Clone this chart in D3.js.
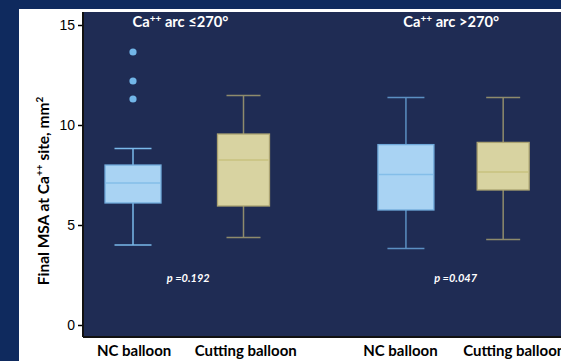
<!DOCTYPE html>
<html><head><meta charset="utf-8">
<script src="https://cdn.jsdelivr.net/npm/d3@7"></script>
<style>html,body{margin:0;padding:0;background:#0f2a5e;}svg{display:block;}</style>
</head><body>
<script>
const categories = ["NC balloon", "Cutting balloon", "NC balloon", "Cutting balloon"];
const slots = [1, 2, 3.47, 4.35];
const labelSlots = [1.01, 2.02, 3.42, 4.45];
const kinds = ["nc", "cut", "nc", "cut"];
const whiskerLow = [4.0, 4.38, 3.82, 4.27];
const q1 = [6.1, 5.95, 5.75, 6.75];
const medians = [7.1, 8.25, 7.53, 7.65];
const q3 = [8.0, 9.55, 9.02, 9.13];
const whiskerHigh = [8.83, 11.47, 11.38, 11.38];
const outliers = [[13.65, 12.2, 11.3], [], [], []];
const yTicks = [0, 5, 10, 15];
const groupTitles = ["arc \u2264270\u00b0", "arc >270\u00b0"];
const groupTitleSlots = [1.43, 3.88];
const pValues = ["p =0.192", "p =0.047"];
const pSlots = [1.5, 3.92];

const W = 561, H = 361;
const svg = d3.select("body").append("svg").attr("width", W).attr("height", H);
svg.append("rect").attr("x", 0).attr("y", 0).attr("width", W).attr("height", H).attr("fill", "#0f2a5e");
svg.append("rect").attr("x", 19).attr("y", 9).attr("width", W - 19).attr("height", H - 9).attr("fill", "#ffffff");

const plot = {x0: 83, x1: 561, y0: 12, y1: 337};
svg.append("rect").attr("x", plot.x0).attr("y", plot.y0).attr("width", plot.x1 - plot.x0).attr("height", plot.y1 - plot.y0).attr("fill", "#1f2c54");

const x = d3.scaleLinear().domain([1, 2]).range([133, 243.5]);
const y = d3.scaleLinear().domain([0, 15]).range([325, 25]);

const style = {
  nc: {fill: "#a9d3f3", stroke: "#6fa9da", median: "#84bee9", whisker: ["#7ab9ea", "#5b8fc2"], half: 28, cap: 18.5},
  cut: {fill: "#d8d3a1", stroke: "#aaa271", median: "#c9c27f", whisker: ["#8e8b6c", "#8e8b6c"], half: 26, cap: 17}
};

categories.forEach((c, i) => {
  const s = style[kinds[i]];
  const cx = x(slots[i]);
  const wc = s.whisker[i < 2 ? 0 : 1];
  const g = svg.append("g");
  g.append("line").attr("x1", cx).attr("x2", cx).attr("y1", y(whiskerHigh[i])).attr("y2", y(q3[i])).attr("stroke", wc).attr("stroke-width", 1.5);
  g.append("line").attr("x1", cx).attr("x2", cx).attr("y1", y(q1[i])).attr("y2", y(whiskerLow[i])).attr("stroke", wc).attr("stroke-width", 1.5);
  g.append("line").attr("x1", cx - s.cap).attr("x2", cx + s.cap).attr("y1", y(whiskerHigh[i])).attr("y2", y(whiskerHigh[i])).attr("stroke", wc).attr("stroke-width", 1.5);
  g.append("line").attr("x1", cx - s.cap).attr("x2", cx + s.cap).attr("y1", y(whiskerLow[i])).attr("y2", y(whiskerLow[i])).attr("stroke", wc).attr("stroke-width", 1.5);
  g.append("rect").attr("x", cx - s.half).attr("width", 2 * s.half).attr("y", y(q3[i])).attr("height", y(q1[i]) - y(q3[i]))
    .attr("fill", s.fill).attr("stroke", s.stroke).attr("stroke-width", 1.3);
  g.append("line").attr("x1", cx - s.half + 1).attr("x2", cx + s.half - 1).attr("y1", y(medians[i])).attr("y2", y(medians[i])).attr("stroke", s.median).attr("stroke-width", 1.5);
  outliers[i].forEach(v => {
    g.append("circle").attr("cx", cx).attr("cy", y(v)).attr("r", 3.6).attr("fill", "#72b6e8");
  });
});

// axes
const yAxis = d3.axisLeft(y).tickValues(yTicks).tickSize(5).tickPadding(3);
const ya = svg.append("g").attr("transform", `translate(${plot.x0},0)`).call(yAxis);
ya.select(".domain").remove();
ya.selectAll(".tick line").attr("stroke", "#000").attr("stroke-width", 1.5);
ya.selectAll(".tick text").attr("fill", "#000").style("font-family", "'Liberation Sans', Arial, sans-serif").style("font-size", "14px");
svg.append("line").attr("x1", plot.x0).attr("x2", plot.x0).attr("y1", plot.y0).attr("y2", plot.y1).attr("stroke", "#111").attr("stroke-width", 2);
svg.append("line").attr("x1", plot.x0).attr("x2", plot.x1).attr("y1", plot.y1).attr("y2", plot.y1).attr("stroke", "#111").attr("stroke-width", 2);

const font = "Lato, 'Open Sans', sans-serif";
categories.forEach((c, i) => {
  svg.append("text").attr("x", x(labelSlots[i])).attr("y", 356).attr("text-anchor", "middle")
    .style("font-family", font).style("font-weight", "bold").style("font-size", "15px").attr("fill", "#000").text(c);
});

// y label
const yl = svg.append("text").attr("transform", "translate(49,191) rotate(-90)").attr("text-anchor", "middle")
  .style("font-family", font).style("font-weight", "bold").style("font-size", "15.5px").attr("fill", "#000");
yl.append("tspan").text("Final MSA at Ca");
yl.append("tspan").attr("dy", -6).style("font-size", "10px").text("++");
yl.append("tspan").attr("dy", 6).text(" site, mm");
yl.append("tspan").attr("dy", -6).style("font-size", "10px").text("2");

// group titles
groupTitles.forEach((t, i) => {
  const tt = svg.append("text").attr("x", x(groupTitleSlots[i])).attr("y", 27).attr("text-anchor", "middle")
    .style("font-family", font).style("font-weight", "bold").style("font-size", "14.7px").attr("fill", "#fff");
  tt.append("tspan").text("Ca");
  tt.append("tspan").attr("dy", -5).style("font-size", "10px").text("++");
  tt.append("tspan").attr("dy", 5).text(" " + t);
});

pValues.forEach((p, i) => {
  svg.append("text").attr("x", x(pSlots[i])).attr("y", 282).attr("text-anchor", "middle")
    .style("font-family", font).style("font-weight", "bold").style("font-style", "italic").style("font-size", "11px").attr("fill", "#fff").text(p);
});
</script>
</body></html>
